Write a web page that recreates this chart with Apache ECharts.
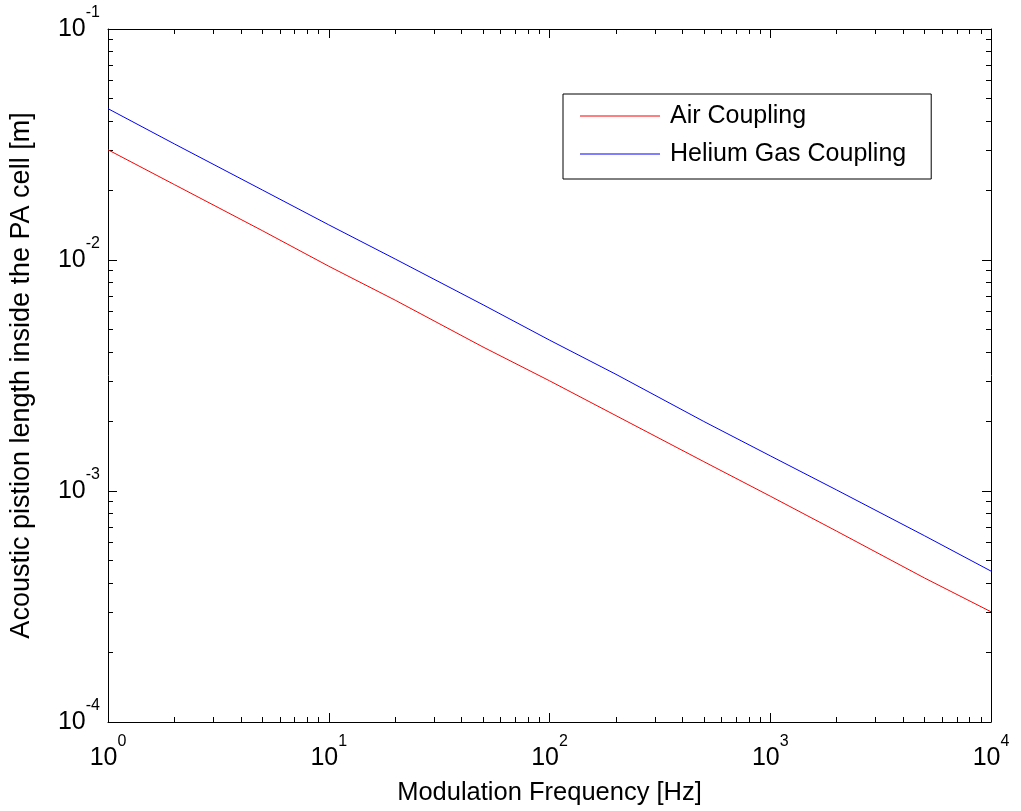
<!DOCTYPE html>
<html>
<head>
<meta charset="utf-8">
<script src="https://cdn.jsdelivr.net/npm/echarts@6/dist/echarts.min.js"></script>
<style>
html,body{margin:0;padding:0;background:#fff;}
#chart{width:1021px;height:811px;}
</style>
</head>
<body>
<div id="chart"></div>
<script>
// Data
const frequencies = [1, 2, 5, 10, 20, 50, 100, 200, 500, 1000, 2000, 5000, 10000];
const airCoupling = [0.0300, 0.0212, 0.0134, 0.0094, 0.0067, 0.0042, 0.0030, 0.00212, 0.00134, 0.00095, 0.00067, 0.00042, 0.00030];
const heliumCoupling = [0.0452, 0.0318, 0.0201, 0.0142, 0.0101, 0.0064, 0.0045, 0.0032, 0.0020, 0.00142, 0.00101, 0.00064, 0.00045];
const seriesNames = ['Air Coupling', 'Helium Gas Coupling'];
const xTickExponents = [0, 1, 2, 3, 4];
const yTickExponents = [-4, -3, -2, -1];
const minorMultipliers = [2, 3, 4, 5, 6, 7, 8, 9];

const FONT = '"Liberation Sans", Arial, sans-serif';

function minorLogPositions(exps) {
  const out = [];
  for (let i = 0; i < exps.length - 1; i++) {
    for (const m of minorMultipliers) out.push(exps[i] + Math.log10(m));
  }
  return out;
}
const xMinor = minorLogPositions(xTickExponents);
const yMinor = minorLogPositions(yTickExponents);

const richLabel = {
  b: { fontSize: 25, lineHeight: 48, fontFamily: FONT, color: '#000' },
  s: { fontSize: 16, lineHeight: 16, verticalAlign: 'top', fontFamily: FONT, color: '#000' }
};
function powLabel(v) {
  const e = Math.round(Math.log10(v));
  return '{b|10}{s|' + e + '}';
}

const axisLineStyle = { show: true, lineStyle: { color: '#000', width: 1 } };

function majorLogAxis(pos, min, max, withLabels, extra) {
  return Object.assign({
    type: 'log', logBase: 10, min: min, max: max, position: pos,
    axisLine: axisLineStyle,
    axisTick: { show: true, inside: true, length: 9, lineStyle: { color: '#000' } },
    splitLine: { show: false },
    minorTick: { show: false },
    axisLabel: withLabels ? { show: true, formatter: powLabel, rich: richLabel } : { show: false }
  }, extra || {});
}
function minorAxis(pos, lo, hi, values) {
  return {
    type: 'value', min: lo, max: hi, position: pos,
    axisLine: { show: false },
    axisTick: { show: true, inside: true, length: 5, customValues: values, lineStyle: { color: '#000' } },
    axisLabel: { show: false },
    splitLine: { show: false }
  };
}

const chart = echarts.init(document.getElementById('chart'));
chart.setOption({
  animation: false,
  backgroundColor: '#fff',
  grid: { left: 108, top: 29, right: 30, bottom: 89, containLabel: false },
  legend: {
    orient: 'vertical',
    left: 563, top: 94,
    data: seriesNames.map(n => ({ name: n, icon: 'rect' })),
    backgroundColor: '#fff',
    borderColor: '#000', borderWidth: 1,
    padding: [9, 25, 12, 17],
    itemWidth: 80, itemHeight: 1, itemGap: 12,
    textStyle: { fontSize: 25, fontFamily: FONT, color: '#000', lineHeight: 26, padding: [0, 0, 0, 5] }
  },
  xAxis: [
    majorLogAxis('bottom', 1, 10000, true, {
      name: 'Modulation Frequency [Hz]', nameLocation: 'middle', nameGap: 58,
      nameTextStyle: { fontSize: 25.5, fontFamily: FONT, color: '#000' },
      axisLabel: { show: true, formatter: powLabel, rich: richLabel, margin: 12 }
    }),
    minorAxis('bottom', 0, 4, xMinor),
    majorLogAxis('top', 1, 10000, false),
    minorAxis('top', 0, 4, xMinor)
  ],
  yAxis: [
    majorLogAxis('left', 0.0001, 0.1, true, {
      name: 'Acoustic pistion length inside the PA cell [m]', nameLocation: 'middle', nameGap: 73,
      nameTextStyle: { fontSize: 27, fontFamily: FONT, color: '#000' },
      axisLabel: { show: true, formatter: powLabel, rich: richLabel, margin: 8 }
    }),
    minorAxis('left', -4, -1, yMinor),
    majorLogAxis('right', 0.0001, 0.1, false),
    minorAxis('right', -4, -1, yMinor)
  ],
  series: [
    {
      name: seriesNames[0], type: 'line', xAxisIndex: 0, yAxisIndex: 0,
      data: frequencies.map((f, i) => [f, airCoupling[i]]),
      symbol: 'none', lineStyle: { color: '#ff0000', width: 1 }, itemStyle: { color: '#ff0000' }
    },
    {
      name: seriesNames[1], type: 'line', xAxisIndex: 0, yAxisIndex: 0,
      data: frequencies.map((f, i) => [f, heliumCoupling[i]]),
      symbol: 'none', lineStyle: { color: '#0000ff', width: 1 }, itemStyle: { color: '#0000ff' }
    }
  ]
});
</script>
</body>
</html>
